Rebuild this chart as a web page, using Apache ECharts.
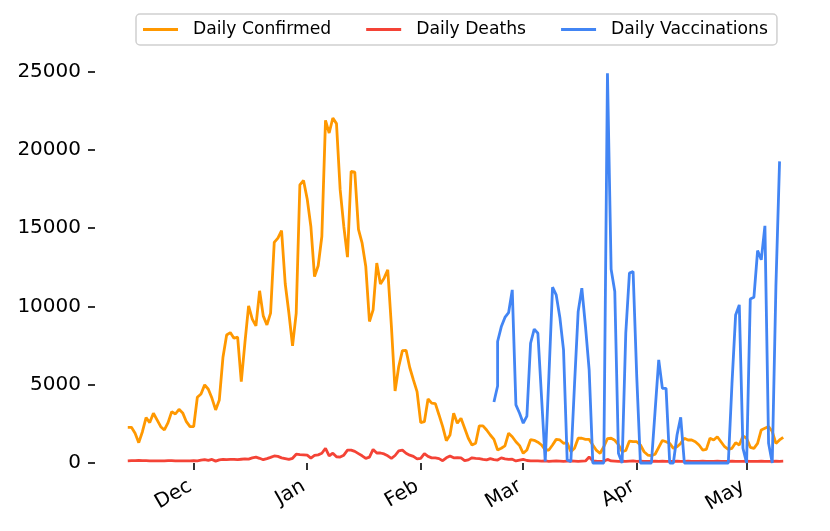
<!DOCTYPE html>
<html>
<head>
<meta charset="utf-8">
<script src="https://cdn.jsdelivr.net/npm/echarts@6/dist/echarts.min.js"></script>
<style>
  html, body { margin: 0; padding: 0; background: #fff; }
  #chart { width: 830px; height: 531px; }
</style>
</head>
<body>
<div id="chart"></div>
<script>
// daily series, one value per day starting 2020-11-13
const startDate = [2020, 10, 13]
const confirmed = [
  2280, 2280, 1900, 1300, 2000, 2900, 2580, 3180, 2750, 2320,
  2110, 2580, 3280, 3130, 3430, 3200, 2640, 2320, 2320, 4200,
  4410, 4990, 4710, 4130, 3390, 4030, 6760, 8180, 8330, 7970,
  8040, 5200, 7700, 10040, 9190, 8760, 11000, 9400, 8820, 9570,
  14090, 14370, 14850, 11450, 9580, 7480, 9580, 17770, 18050, 16870,
  15110, 11910, 12600, 14470, 21890, 21080, 22040, 21680, 17460, 15110,
  13150, 18630, 18580, 14920, 14040, 12550, 9040, 9780, 12770, 11440,
  11810, 12340, 8720, 4600, 6160, 7180, 7200, 6100, 5310, 4560,
  2580, 2640, 4090, 3820, 3790, 3070, 2320, 1430, 1790, 3180,
  2540, 2860, 2220, 1580, 1150, 1260, 2370, 2370, 2110, 1790,
  1510, 830, 940, 1090, 1900, 1680, 1360, 1110, 620, 830,
  1490, 1450, 1330, 1150, 830, 830, 1150, 1510, 1470, 1260,
  1300, 720, 940, 1580, 1580, 1510, 1510, 1150, 800, 620,
  1040, 1560, 1580, 1450, 1170, 720, 800, 1400, 1360, 1360,
  1150, 720, 510, 470, 560, 1000, 1440, 1360, 1250, 940,
  1040, 1250, 1580, 1470, 1470, 1360, 1150, 830, 870, 1580,
  1470, 1680, 1360, 1040, 870, 940, 1300, 1150, 1720, 1580,
  1000, 940, 1250, 2110, 2220, 2330, 2010, 1250, 1470, 1640
]
const deaths = [
  140, 150, 150, 160, 150, 150, 140, 140, 130, 140,
  140, 150, 150, 140, 140, 130, 130, 140, 150, 140,
  180, 210, 170, 230, 120, 200, 230, 220, 230, 230,
  220, 240, 260, 250, 330, 380, 300, 210, 280, 360,
  450, 420, 330, 280, 230, 300, 560, 530, 520, 500,
  310, 480, 520, 620, 940, 450, 630, 400, 380, 500,
  820, 820, 740, 600, 460, 300, 380, 870, 640, 640,
  580, 460, 300, 480, 780, 820, 620, 500, 420, 260,
  300, 600, 420, 330, 330, 280, 150, 330, 450, 330,
  340, 330, 150, 200, 330, 300, 280, 230, 200, 280,
  220, 190, 330, 260, 230, 240, 130, 180, 230, 160,
  130, 140, 130, 120, 130, 110, 120, 130, 120, 110,
  120, 130, 120, 110, 120, 130, 380, 140, 120, 110,
  120, 230, 130, 120, 110, 120, 110, 120, 130, 110,
  120, 110, 100, 110, 120, 110, 120, 110, 100, 110,
  120, 110, 100, 120, 110, 100, 110, 120, 110, 100,
  110, 120, 110, 100, 110, 120, 110, 100, 110, 120,
  110, 100, 110, 120, 110, 100, 110, 120, 110, 120
]
// vaccinations are reported on their own dates (one date appears twice)
const vaccDates = [
  '2021-02-21', '2021-02-22', '2021-02-22', '2021-02-23', '2021-02-24', '2021-02-25', '2021-02-26', '2021-02-27', '2021-02-28',
  '2021-03-01', '2021-03-02', '2021-03-03', '2021-03-04', '2021-03-05', '2021-03-06', '2021-03-07', '2021-03-08', '2021-03-09', '2021-03-10',
  '2021-03-11', '2021-03-12', '2021-03-13', '2021-03-14', '2021-03-15', '2021-03-16', '2021-03-17', '2021-03-18', '2021-03-19', '2021-03-20',
  '2021-03-21', '2021-03-22', '2021-03-23', '2021-03-24', '2021-03-25', '2021-03-26', '2021-03-27', '2021-03-28', '2021-03-29', '2021-03-30', '2021-03-31',
  '2021-04-01', '2021-04-02', '2021-04-03', '2021-04-04', '2021-04-05', '2021-04-06', '2021-04-07', '2021-04-08', '2021-04-09', '2021-04-10',
  '2021-04-11', '2021-04-12', '2021-04-13', '2021-04-14', '2021-04-15', '2021-04-16', '2021-04-17', '2021-04-18', '2021-04-19', '2021-04-20',
  '2021-04-21', '2021-04-22', '2021-04-23', '2021-04-24', '2021-04-25', '2021-04-26', '2021-04-27', '2021-04-28', '2021-04-29', '2021-04-30',
  '2021-05-01', '2021-05-02', '2021-05-03', '2021-05-04', '2021-05-05', '2021-05-06', '2021-05-07', '2021-05-08', '2021-05-09', '2021-05-10', '2021-05-11'
]
const vaccinations = [
  3900, 4920, 7760, 8700, 9300, 9600, 11060, 3710, 3180,
  2540, 3000, 7650, 8550, 8290, 4200, 100, 5500, 11230, 10740,
  9300, 7230, 190, 80, 5000, 9670, 11170, 8720, 5950, 0,
  0, 0, 0, 24900, 12380, 10950, 620, 0, 8290, 12130, 12230,
  5500, 0, 0, 0, 0, 3300, 6590, 4770, 4770, 0,
  0, 1790, 2920, 0, 0, 0, 0, 0, 0, 0,
  0, 0, 0, 0, 0, 0, 5050, 9460, 10100, 940,
  0, 10470, 10590, 13570, 12980, 15150, 1260, 0, 11270, 19270
]
const monthTicks = ['2020-12-01', '2021-01-01', '2021-02-01', '2021-03-01', '2021-04-01', '2021-05-01']
const monthLabels = ['Dec', 'Jan', 'Feb', 'Mar', 'Apr', 'May']
const seriesNames = ['Daily Confirmed', 'Daily Deaths', 'Daily Vaccinations']
const seriesColors = ['#ff9800', '#f44336', '#4285f4']

function pad (n) {
  return n < 10 ? '0' + n : '' + n
}

function dayString (i) {
  let d = new Date(startDate[0], startDate[1], startDate[2] + i)
  return d.getFullYear() + '-' + pad(d.getMonth() + 1) + '-' + pad(d.getDate())
}

function toTime (s) {
  let p = s.split('-')
  return +new Date(+p[0], +p[1] - 1, +p[2])
}

let dates = confirmed.map((v, i) => dayString(i))
// matplotlib-like 5% side margins
let t0 = toTime(dates[0])
let t1 = toTime(dates[dates.length - 1])
let margin = (t1 - t0) * 0.05
let tickTimes = monthTicks.map(toTime)

let chart = echarts.init(document.getElementById('chart'), null, { renderer: 'canvas' })

function lineSeries (name, color, data, z) {
  return {
    name: name,
    type: 'line',
    data: data,
    showSymbol: false,
    symbol: 'none',
    clip: false,
    z: z,
    lineStyle: { color: color, width: 2.8 },
    itemStyle: { color: color }
  }
}

let option = {
  animation: false,
  backgroundColor: '#fff',
  textStyle: { fontFamily: 'DejaVu Sans' },
  legend: {
    top: 14,
    left: 136,
    icon: 'rect',
    itemWidth: 35,
    itemHeight: 3,
    itemGap: 35,
    padding: [7, 9, 7, 7],
    borderColor: '#d0d0d0',
    borderWidth: 1.5,
    borderRadius: 4,
    backgroundColor: '#fff',
    textStyle: { fontSize: 17.2, color: '#000', padding: [0, 0, 0, 10], fontFamily: 'DejaVu Sans' },
    data: seriesNames
  },
  grid: {
    left: 95,
    right: 14,
    top: 56,
    bottom: 68,
    containLabel: false
  },
  xAxis: {
    type: 'value',
    min: t0 - margin,
    max: t1 + margin,
    axisLine: { show: false },
    splitLine: { show: false },
    axisTick: {
      show: true,
      length: 7,
      customValues: tickTimes,
      lineStyle: { color: '#000', width: 1.6 }
    },
    axisLabel: {
      customValues: tickTimes,
      rotate: 30,
      margin: 20,
      fontSize: 20,
      color: '#000',
      fontFamily: 'DejaVu Sans',
      padding: [0, 4, 0, 0],
      formatter: function (value) {
        let idx = tickTimes.indexOf(value)
        return idx >= 0 ? monthLabels[idx] : ''
      }
    }
  },
  yAxis: {
    type: 'value',
    min: 0,
    max: 26000,
    interval: 5000,
    axisLine: { show: false },
    splitLine: { show: false },
    axisTick: { show: true, length: 7, lineStyle: { color: '#000', width: 1.6 } },
    axisLabel: {
      margin: 14,
      fontSize: 20,
      color: '#000',
      fontFamily: 'DejaVu Sans',
      showMaxLabel: false,
      formatter: function (value) {
        return String(value)
      }
    }
  },
  series: [
    lineSeries(seriesNames[0], seriesColors[0], dates.map((d, i) => [toTime(d), confirmed[i]]), 2),
    lineSeries(seriesNames[1], seriesColors[1], dates.map((d, i) => [toTime(d), deaths[i]]), 3),
    lineSeries(seriesNames[2], seriesColors[2], vaccDates.map((d, i) => [toTime(d), vaccinations[i]]), 4)
  ]
}

chart.setOption(option)
</script>
</body>
</html>
